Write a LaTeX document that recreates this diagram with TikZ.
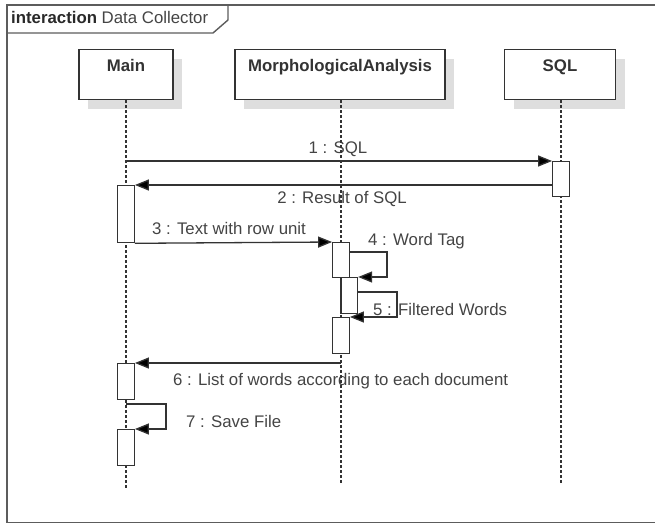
\documentclass[tikz,border=0pt]{standalone}
\usepackage{fontspec}
\setmainfont{Liberation Sans}
\usetikzlibrary{arrows.meta,shadows}
\definecolor{ink}{HTML}{333333}
\definecolor{txt}{HTML}{444444}
\definecolor{shade}{HTML}{DEDEDE}

\begin{document}
\begin{tikzpicture}[x=1pt,y=-1pt,
  every node/.style={font=\fontsize{16.8}{20}\selectfont, text=txt, inner sep=0pt},
  head/.style={draw=ink, line width=1.3pt, fill=white, minimum width=#1,
    minimum height=50pt, anchor=north,
    drop shadow={shadow xshift=9pt, shadow yshift=-9pt, fill=shade, opacity=1}},
  headtxt/.style={font=\fontsize{16.8}{20}\selectfont\bfseries, text=ink, anchor=base},
  act/.style={draw=ink, line width=1.3pt, fill=white, minimum width=16.5pt,
    minimum height=#1, anchor=north},
  life/.style={draw=ink, line width=1.5pt, dash pattern=on 3pt off 2pt},
  msg/.style={draw=ink, line width=1.3pt, -{Triangle[length=14pt,width=11pt,fill=black]}},
  lbl/.style={anchor=base},
  lblw/.style={anchor=base west}]

\useasboundingbox (0,0) rectangle (655,525);

% outer frame and name tab
\draw[ink!80, line width=1.4pt] (7,5) rectangle (662,522.5);
\draw[ink!80, line width=1.4pt] (7,33) -- (213,33) -- (228,20) -- (228,5);
\node[anchor=base west] (title) at (11,23)
  {{\bfseries\color{ink!80!black}interaction} Data Collector};

% lifeline heads
\node[head=94pt] (main) at (126,49) {};
\node[head=210pt] (morph) at (340,49) {};
\node[head=111pt] (sql) at (560,49) {};
\node[headtxt] (mainlbl) at (126,71) {Main};
\node[headtxt] (morphlbl) at (340,71) {MorphologicalAnalysis};
\node[headtxt] (sqllbl) at (560,71) {SQL};

% message labels
\node[lbl] (l1) at (338,153) {1 : SQL};
\node[lbl] (l2) at (342,203) {2 : Result of SQL};
\node[lbl] (l3) at (229,234) {3 : Text with row unit};
\node[lblw] (l4) at (368,245) {4 : Word Tag};
\node[lblw] (l5) at (373,315) {5 : Filtered Words};
\node[lblw] (l6) at (173,385) {6 : List of words according to each document};
\node[lblw] (l7) at (186,427) {7 : Save File};

% lifelines
\coordinate (mainend) at (126,490);
\coordinate (morphend) at (341,483);
\coordinate (sqlend) at (561,483);
\draw[life] (main.south -| mainend) -- (mainend);
\draw[life] (morph.south -| morphend) -- (morphend);
\draw[life] (sql.south -| sqlend) -- (sqlend);

% activations
\node[act=35pt] (s1) at (561,161) {};
\node[act=57pt] (a1) at (126,185) {};
\node[act=35pt] (b1) at (341,242) {};
\node[act=36pt] (b2) at (349.25,277) {};
\node[act=36pt] (b3) at (341,317) {};
\node[act=36pt] (a2) at (126,363) {};
\node[act=36pt] (a3) at (126,429) {};

% messages
\coordinate (m1s) at (126,161);
\draw[msg] (m1s) -- (s1.north west);

\coordinate (m2s) at (552.75,185);
\draw[msg] (m2s) -- (a1.north east);

\draw[msg] (a1.south east) -- (b1.north west);

\coordinate (m4s) at (349.25,252);
\coordinate (m4c) at (387,277);
\draw[msg] (m4s) -| (m4c) -- (b2.north east);

\coordinate (m5s) at (357.5,292);
\coordinate (m5c) at (397,317);
\draw[msg] (m5s) -| (m5c) -- (b3.north east);

\coordinate (m6s) at (341,363);
\draw[msg] (m6s) -- (a2.north east);

\coordinate (m7s) at (126,404);
\coordinate (m7c) at (166,429);
\draw[msg] (m7s) -| (m7c) -- (a3.north east);

\end{tikzpicture}
\end{document}
